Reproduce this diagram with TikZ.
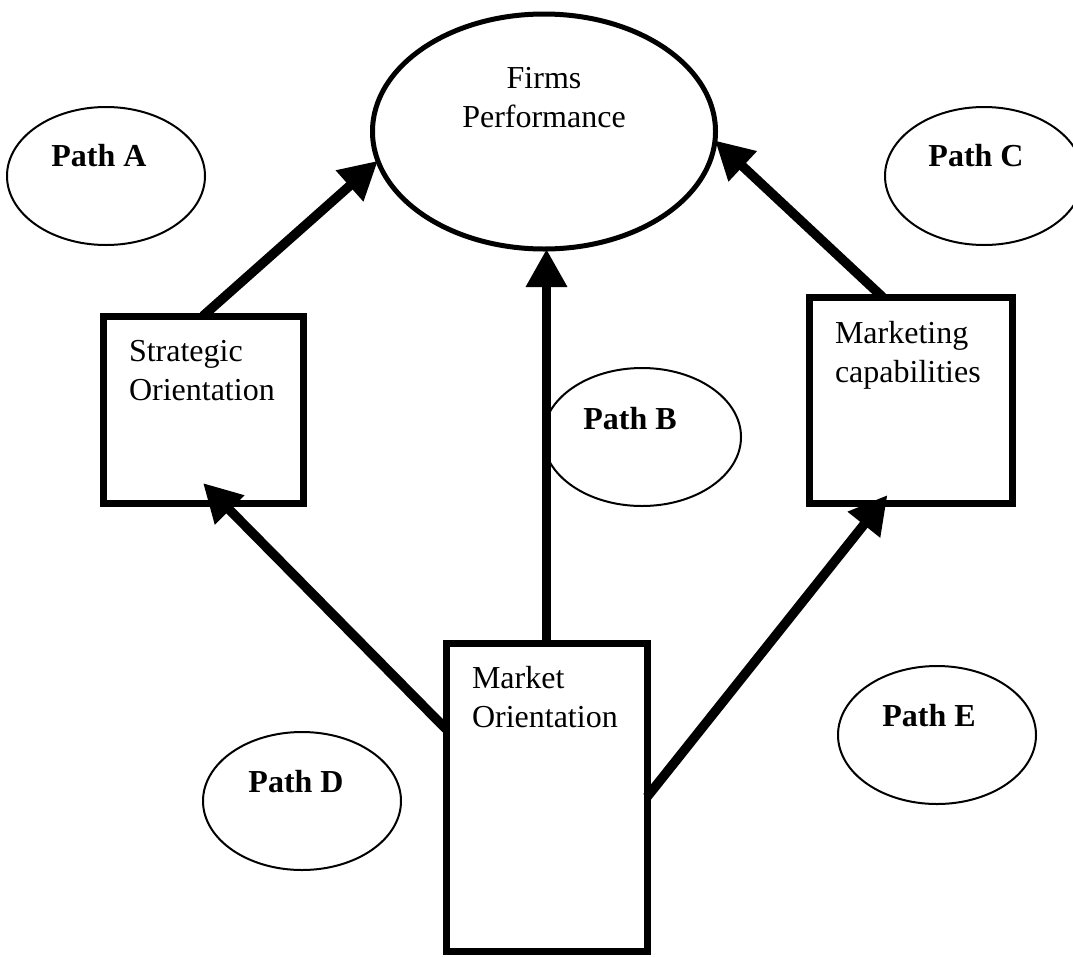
\documentclass[tikz,border=0pt]{standalone}
\usepackage{fontspec}
\setmainfont{Liberation Serif}
\usetikzlibrary{arrows.meta,shapes.geometric,calc}

\begin{document}
\begin{tikzpicture}[x=1pt,y=-1pt,
  every node/.style={inner sep=0pt, outer sep=0pt},
  mainoval/.style={draw, ellipse, line width=5pt, minimum width=343pt, minimum height=235pt},
  pathoval/.style={draw, ellipse, line width=2pt, minimum width=198pt, minimum height=138pt},
  factor/.style={draw, rectangle, line width=7pt},
  boxtext/.style={font=\fontsize{32}{38.5}\selectfont, align=left, anchor=base west},
  pathlabel/.style={font=\fontsize{32}{38}\selectfont\bfseries, anchor=base},
  link/.style={line width=9.5pt, -{Triangle[length=38pt,width=39pt]}}
]
\useasboundingbox (0,0) rectangle (1073,956);

% outcome (text nodes are placed by the baseline of their last line)
\node[mainoval] (FP) at (544,131.5) {};
\node[font=\fontsize{32}{39}\selectfont, align=center, anchor=base] (FPtext) at (544,127) {Firms\\Performance};

% path labels
\node[pathoval] (PA) at (106,176) {};
\node[pathlabel] (PAtext) at (99,166) {Path A};
\node[pathoval] (PB) at (642,437) {};
\node[pathlabel] (PBtext) at (630,429) {Path B};
\node[pathoval] (PC) at (984,176) {};
\node[pathlabel] (PCtext) at (976,166) {Path C};
\node[pathoval] (PD) at (302,801) {};
\node[pathlabel] (PDtext) at (296,792) {Path D};
\node[pathoval] (PE) at (937,735) {};
\node[pathlabel] (PEtext) at (929,726) {Path E};

% constructs
\node[factor, minimum width=200pt, minimum height=187pt] (SO) at (203,409.5) {};
\node[boxtext] (SOtext) at (129,400) {Strategic\\Orientation};
\node[factor, minimum width=203pt, minimum height=206pt] (MC) at (910.5,400) {};
\node[boxtext] (MCtext) at (835,382) {Marketing\\capabilities};
\node[factor, minimum width=201pt, minimum height=308pt] (MO) at (546.5,797) {};
\node[boxtext] (MOtext) at (472,727) {Market\\Orientation};

% relationships
\draw[link] (SO.north) -- (FP.190);
\draw[link] (MO.north) -- (MO.north |- FP.south);
\draw[link] ([xshift=-28pt]MC.north) -- (FP.357);
\draw[link] ([yshift=68pt]MO.west) -- ([yshift=20pt]SO.south);
\draw[link] (MO.east) -- ([xshift=-23pt,yshift=8pt]MC.south);
\end{tikzpicture}
\end{document}
